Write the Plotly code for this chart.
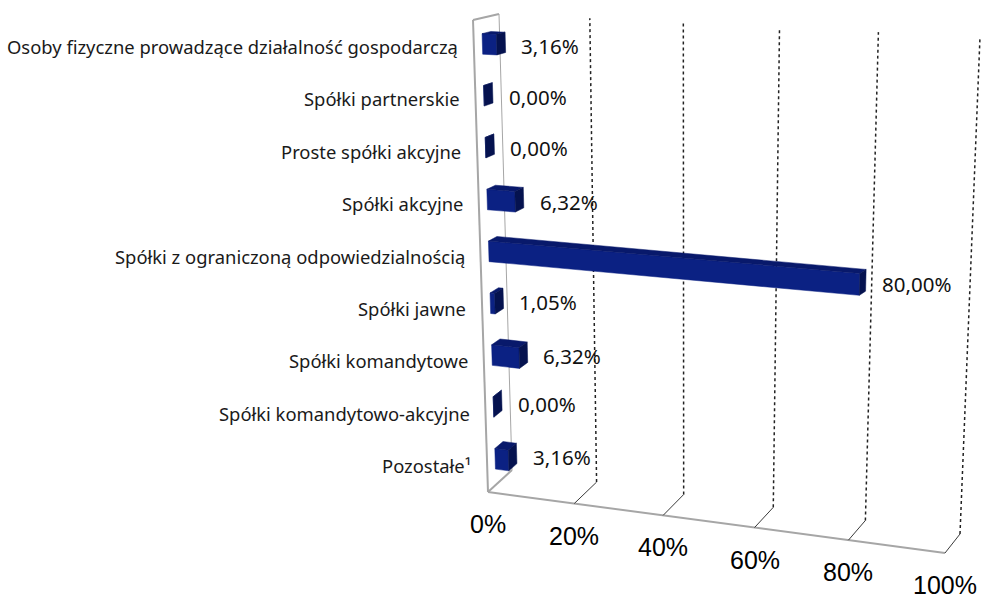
# skewed 3D-style horizontal bar chart, drawn on a pixel-sized 2D canvas

import plotly.graph_objects as go

# data (top to bottom, as in the chart)
categories = [
    "Osoby fizyczne prowadzące działalność gospodarczą",
    "Spółki partnerskie",
    "Proste spółki akcyjne",
    "Spółki akcyjne",
    "Spółki z ograniczoną odpowiedzialnością",
    "Spółki jawne",
    "Spółki komandytowe",
    "Spółki komandytowo-akcyjne",
    "Pozostałe¹",
]
shares = [3.16, 0.00, 0.00, 6.32, 80.00, 1.05, 6.32, 0.00, 3.16]
axis_ticks = [0, 20, 40, 60, 80, 100]
tick_labels = ["0%", "20%", "40%", "60%", "80%", "100%"]

W, H = 987, 599

# corners of the plot box in screen pixels (front plane d=0, back plane d=1)
FRONT = {"bl": (488, 492), "br": (945, 553), "tl": (473, 20), "tr": (962, 41)}
BACK = {"bl": (512, 470), "br": (960, 534), "tl": (499, 14), "tr": (980, 37)}

BAR_HALF = 0.022   # half bar height, in fraction of wall height
D0, D1 = 0.33, 0.67  # bar depth range

FRONT_COL = "#0b2183"
TOP_COL = "#08196b"
SIDE_COL = "#05124f"


def bilinear(plane, u, w):
    x = ((1 - u) * (1 - w) * plane["bl"][0] + u * (1 - w) * plane["br"][0]
         + (1 - u) * w * plane["tl"][0] + u * w * plane["tr"][0])
    y = ((1 - u) * (1 - w) * plane["bl"][1] + u * (1 - w) * plane["br"][1]
         + (1 - u) * w * plane["tl"][1] + u * w * plane["tr"][1])
    return x, y


def project(value, level, depth):
    # value in %, level 0 (floor) .. 1 (top), depth 0 (front) .. 1 (back)
    u = value / 100.0
    u = u * (0.93 + 0.07 * u)  # slight perspective along the value axis
    fx, fy = bilinear(FRONT, u, level)
    bx, by = bilinear(BACK, u, level)
    return fx + (bx - fx) * depth, fy + (by - fy) * depth


def poly(points):
    pts = [project(*p) for p in points]
    pts.append(pts[0])
    return [p[0] for p in pts], [p[1] for p in pts]


def segments(pairs):
    xs, ys = [], []
    for a, b in pairs:
        pa, pb = project(*a), project(*b)
        xs += [pa[0], pb[0], None]
        ys += [pa[1], pb[1], None]
    return xs, ys


fig = go.Figure()

# left wall outline
xs, ys = segments([((0, 0, 0), (0, 1, 0)), ((0, 1, 0), (0, 1, 1)), ((0, 0, 0), (0, 0, 1))])
fig.add_trace(go.Scatter(x=xs, y=ys, mode="lines", line=dict(color="#a6a6a6", width=2),
                         hoverinfo="skip", showlegend=False))
xs, ys = segments([((0, 0, 1), (0, 1, 1))])
fig.add_trace(go.Scatter(x=xs, y=ys, mode="lines", line=dict(color="#a6a6a6", width=1),
                         hoverinfo="skip", showlegend=False))

# floor front edge
xs, ys = segments([((0, 0, 0), (100, 0, 0))])
fig.add_trace(go.Scatter(x=xs, y=ys, mode="lines", line=dict(color="#a6a6a6", width=2),
                         hoverinfo="skip", showlegend=False))

# depth ticks on the floor
xs, ys = segments([((v, 0, 0), (v, 0, 1)) for v in axis_ticks[1:]])
fig.add_trace(go.Scatter(x=xs, y=ys, mode="lines", line=dict(color="#3a3a3a", width=1),
                         hoverinfo="skip", showlegend=False))

# dotted gridlines on the back wall
xs, ys = segments([((v, 0, 1), (v, 1, 1)) for v in axis_ticks[1:]])
fig.add_trace(go.Scatter(x=xs, y=ys, mode="lines",
                          line=dict(color="#222222", width=1.5, dash="dot"),
                          hoverinfo="skip", showlegend=False))

# bars
n = len(categories)
for i, (cat, v) in enumerate(zip(categories, shares)):
    level = (n - 1 - i + 0.5) / n
    lo, hi = level - BAR_HALF, level + BAR_HALF
    faces = [
        ([(0, lo, D0), (v, lo, D0), (v, hi, D0), (0, hi, D0)], FRONT_COL),
        ([(0, hi, D0), (v, hi, D0), (v, hi, D1), (0, hi, D1)], TOP_COL),
        ([(v, lo, D0), (v, lo, D1), (v, hi, D1), (v, hi, D0)], SIDE_COL),
    ]
    for pts, col in faces:
        px, py = poly(pts)
        fig.add_trace(go.Scatter(x=px, y=py, mode="lines", fill="toself",
                                 fillcolor=col, line=dict(color=col, width=0.5),
                                 name=cat, hoverinfo="skip", showlegend=False))

    # category label left of the wall
    lx, ly = project(0, level, 0)
    fig.add_annotation(x=lx, y=ly, text=cat, showarrow=False, xanchor="right",
                       yanchor="middle", xshift=-14,
                       font=dict(family="Noto Sans", size=18.4, color="#1a1a1a"))

    # value label right of the bar
    vx, vy = project(v, level, D1)
    fig.add_annotation(x=vx, y=vy, text=f"{v:.2f}%".replace(".", ","), showarrow=False,
                       xanchor="left", yanchor="middle", xshift=14, yshift=-4,
                       font=dict(family="Noto Sans", size=20.5, color="#111111"))

# value axis labels under the floor
for v, t in zip(axis_ticks, tick_labels):
    tx, ty = project(v, 0, 0)
    fig.add_annotation(x=tx, y=ty, text=t, showarrow=False, xanchor="center",
                       yanchor="middle", yshift=-32,
                       font=dict(family="Liberation Sans", size=25, color="#000000"))

fig.update_layout(
    width=W,
    height=H,
    margin=dict(l=0, r=0, t=0, b=0),
    plot_bgcolor="white",
    paper_bgcolor="white",
    xaxis=dict(range=[0, W], visible=False, fixedrange=True),
    yaxis=dict(range=[H, 0], visible=False, fixedrange=True),
)

# drop the page margin so canvas pixels line up with the window
fig.write_html(
    "out.html",
    config={"displayModeBar": False},
    post_script="document.body.style.margin='0';document.body.style.overflow='hidden';",
)
